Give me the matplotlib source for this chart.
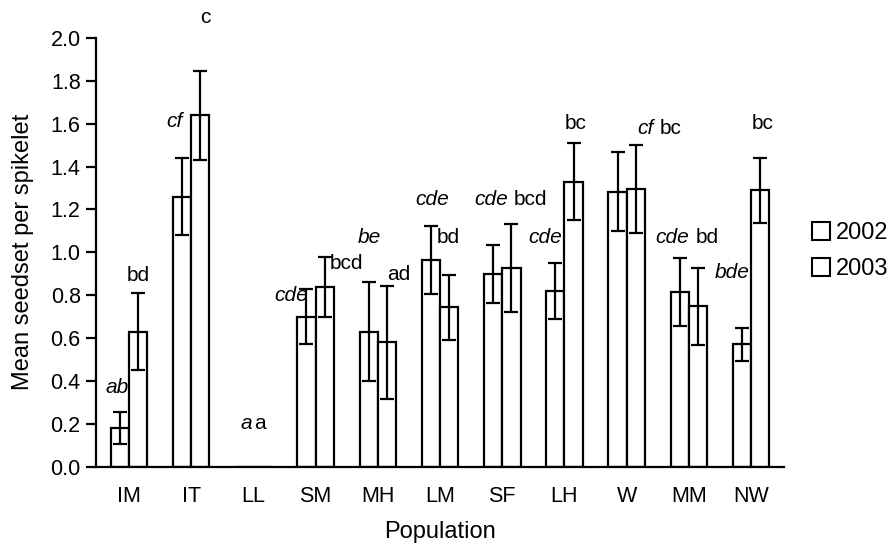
import matplotlib
matplotlib.use("Agg")
import matplotlib.pyplot as plt
from matplotlib.lines import Line2D
import numpy as np

plt.rcParams['font.family'] = ['Liberation Sans', 'DejaVu Sans']

# Populations and mean seed set per spikelet (+/- SE) for the two years
populations = ['IM', 'IT', 'LL', 'SM', 'MH', 'LM', 'SF', 'LH', 'W', 'MM', 'NW']
mean_2002 = [0.18, 1.26, 0.0, 0.70, 0.63, 0.965, 0.90, 0.82, 1.283, 0.815, 0.57]
se_2002 = [0.073, 0.18, 0.0, 0.13, 0.23, 0.16, 0.135, 0.13, 0.185, 0.157, 0.075]
mean_2003 = [0.63, 1.64, 0.0, 0.84, 0.58, 0.743, 0.925, 1.33, 1.295, 0.748, 1.29]
se_2003 = [0.18, 0.207, 0.0, 0.14, 0.265, 0.15, 0.205, 0.18, 0.205, 0.18, 0.152]

# Significance letters (2002 in italics, 2003 upright)
letters_2002 = ['ab', 'cf', 'a', 'cde', 'be', 'cde', 'cde', 'cde', 'cf', 'cde', 'bde']
letters_2003 = ['bd', 'c', 'a', 'bcd', 'ad', 'bd', 'bcd', 'bc', 'bc', 'bd', 'bc']

# Where each letter sits: (x offset from group centre, height)
pos_2002 = [(-0.19, 0.37), (-0.27, 1.61), (-0.11, 0.20), (-0.40, 0.80), (-0.14, 1.07),
            (-0.12, 1.245), (-0.17, 1.245), (-0.31, 1.07), (0.30, 1.58), (-0.26, 1.07),
            (-0.30, 0.905)]
pos_2003 = [(0.15, 0.89), (0.22, 2.095), (0.10, 0.20), (0.50, 0.95), (0.33, 0.895),
            (0.14, 1.07), (0.46, 1.245), (0.18, 1.60), (0.70, 1.58), (0.29, 1.07),
            (0.18, 1.60)]

x = np.arange(len(populations))
w = 0.294
lw = 1.6

fig = plt.figure(figsize=(8.94, 5.48), dpi=100)
ax = fig.add_axes([0.1074, 0.1484, 0.877 - 0.1074, 0.9307 - 0.1484])

for offs, means, ses in [(-w / 2, mean_2002, se_2002), (w / 2, mean_2003, se_2003)]:
    ax.bar(x + offs, means, width=w, facecolor='white', edgecolor='black',
           linewidth=lw, zorder=2)
    m = np.array(means)
    s = np.array(ses)
    keep = s > 0
    ax.errorbar((x + offs)[keep], m[keep], yerr=s[keep], fmt='none', ecolor='black',
                elinewidth=lw, capsize=5.2, capthick=lw, zorder=3)

for i in range(len(populations)):
    dx, yy = pos_2002[i]
    ax.text(x[i] + dx, yy, letters_2002[i], ha='center', va='center',
            fontsize=15, style='italic')
    dx, yy = pos_2003[i]
    ax.text(x[i] + dx, yy, letters_2003[i], ha='center', va='center', fontsize=15)

ax.set_xlim(-0.53, 10.53)
ax.set_ylim(0, 2.0)
ax.set_xticks(x)
ax.set_xticklabels(populations)
ax.set_yticks(np.arange(0, 2.01, 0.2))
ax.set_yticklabels([f'{v:.1f}' for v in np.arange(0, 2.01, 0.2)])
ax.tick_params(axis='x', length=0, labelsize=15.5, pad=14)
ax.tick_params(axis='y', length=7, width=lw, direction='out', labelsize=15.5, pad=4)

for sp in ['top', 'right']:
    ax.spines[sp].set_visible(False)
for sp in ['left', 'bottom']:
    ax.spines[sp].set_linewidth(lw)

ax.set_xlabel('Population', fontsize=17, labelpad=10)
ax.set_ylabel('Mean seedset per spikelet', fontsize=17, labelpad=12)

handles = [Line2D([], [], marker='s', markersize=13, markerfacecolor='white',
                  markeredgecolor='black', markeredgewidth=1.5, linestyle='none')
           for _ in range(2)]
fig.legend(handles, ['2002', '2003'], loc='center left',
           bbox_to_anchor=(0.895, 0.542), frameon=False, fontsize=17,
           handletextpad=0.1, labelspacing=0.6, handlelength=1.0,
           borderaxespad=0)

fig.savefig('out.png', dpi=100)
